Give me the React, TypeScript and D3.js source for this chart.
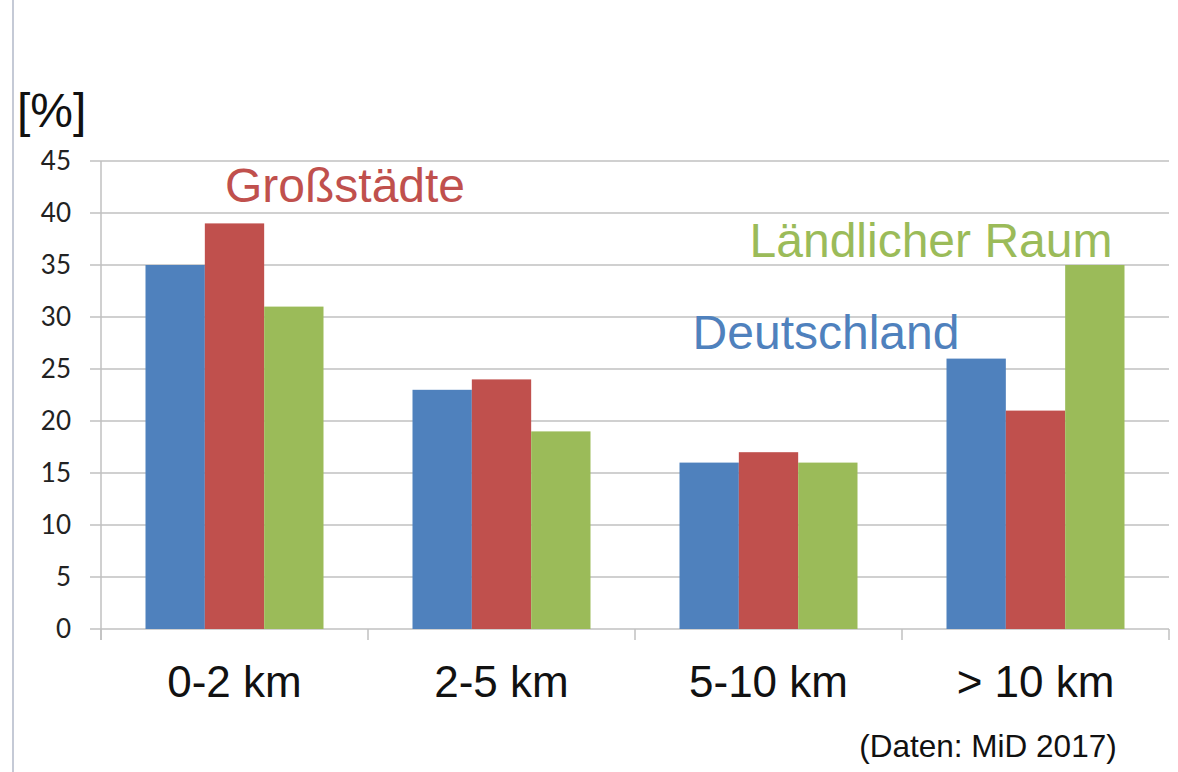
import React from 'react';
import * as d3 from 'd3';

const categories = ['0-2 km', '2-5 km', '5-10 km', '> 10 km'];
const seriesNames = ['Deutschland', 'Großstädte', 'Ländlicher Raum'];
const deutschland = [35, 23, 16, 26];
const grossstaedte = [39, 24, 17, 21];
const laendlich = [31, 19, 16, 35];
const yTicks = [0, 5, 10, 15, 20, 25, 30, 35, 40, 45];

const colors = ['#4F81BD', '#C0504D', '#9BBB59'];

const W = 1178;
const H = 772;
const left = 101;
const right = 1169;
const top = 161;
const bottom = 629;
const sans = "'Liberation Sans', Arial, sans-serif";

const App = () => {
  const series = [deutschland, grossstaedte, laendlich];

  const x = d3.scaleBand().domain(categories).range([left, right]).paddingInner(0).paddingOuter(0);
  const inner = d3
    .scaleBand()
    .domain(seriesNames)
    .range([0, x.bandwidth()])
    .paddingOuter(0.75)
    .paddingInner(0);
  const y = d3.scaleLinear().domain([0, 45]).range([bottom, top]);

  const tickXs = categories.map((c) => x(c)!).concat([right]);

  return (
    <svg width={W} height={H} style={{ position: 'absolute', left: 0, top: 0, background: '#fff' }}>
      <line x1={13} x2={13} y1={0} y2={H} stroke="#c5cad6" strokeWidth={2} />
      {/* gridlines */}
      {yTicks.map((t) => (
        <g key={t}>
          <line x1={90} x2={right} y1={y(t)} y2={y(t)} stroke="#c0c0c0" strokeWidth={1.5} />
          <text
            x={71}
            y={y(t)}
            dy="0.36em"
            textAnchor="end"
            fontFamily="Lato, 'Open Sans', sans-serif"
            fontSize={26}
            fill="#222"
          >
            {t}
          </text>
        </g>
      ))}
      <line x1={left} x2={left} y1={top} y2={bottom + 11} stroke="#c0c0c0" strokeWidth={1.5} />
      {tickXs.map((tx, i) => (
        <line key={i} x1={tx} x2={tx} y1={bottom} y2={bottom + 11} stroke="#c0c0c0" strokeWidth={1.5} />
      ))}
      {/* bars */}
      {categories.map((c, ci) => (
        <g key={c} transform={`translate(${x(c)},0)`}>
          {series.map((s, si) => (
            <rect
              key={si}
              x={inner(seriesNames[si])}
              y={y(s[ci])}
              width={inner.bandwidth()}
              height={bottom - y(s[ci])}
              fill={colors[si]}
            />
          ))}
        </g>
      ))}
      {/* category labels */}
      {categories.map((c) => (
        <text
          key={c}
          x={x(c)! + x.bandwidth() / 2}
          y={697}
          textAnchor="middle"
          fontFamily={sans}
          fontSize={44}
          fill="#111"
        >
          {c}
        </text>
      ))}
      <text x={17} y={127} fontFamily={sans} fontSize={48} fill="#111">
        [%]
      </text>
      <text x={345} y={202} textAnchor="middle" fontFamily={sans} fontSize={48} fill={colors[1]}>
        {seriesNames[1]}
      </text>
      <text x={931} y={257} textAnchor="middle" fontFamily={sans} fontSize={48} fill={colors[2]}>
        {seriesNames[2]}
      </text>
      <text x={826} y={349} textAnchor="middle" fontFamily={sans} fontSize={48} fill={colors[0]}>
        {seriesNames[0]}
      </text>
      <text x={988} y={757} textAnchor="middle" fontFamily={sans} fontSize={31.5} fill="#111">
        (Daten: MiD 2017)
      </text>
    </svg>
  );
};

export default App;
